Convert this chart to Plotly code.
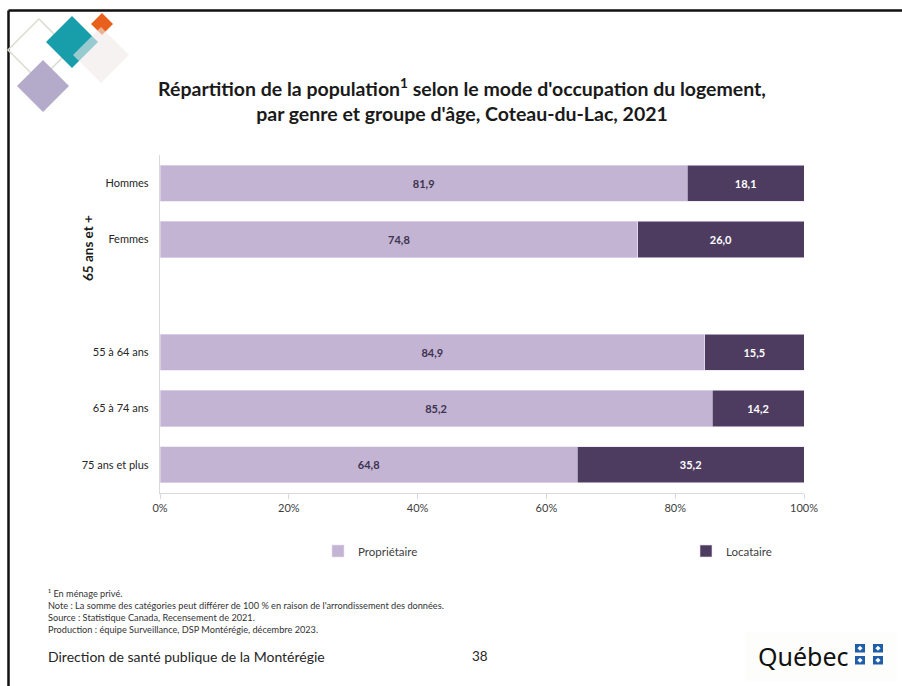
import plotly.graph_objects as go

# Data: share of the population by housing tenure (Coteau-du-Lac, 2021)
categories = ["Hommes", "Femmes", " ", "55 à 64 ans", "65 à 74 ans", "75 ans et plus"]
proprietaire = [81.9, 74.8, None, 84.9, 85.2, 64.8]
locataire = [18.1, 26.0, None, 15.5, 14.2, 35.2]
x_ticks = [0, 20, 40, 60, 80, 100]
x_tick_labels = [f"{v}%" for v in x_ticks]

COL_PROP = "#c3b4d3"
COL_LOC = "#4d3c60"
FONT = "Lato"

W, H = 902, 686
L, R, T, B = 160, 804, 155, 493  # plot area in pixels


def fmt(v):
    return None if v is None else f"{v:.1f}".replace(".", ",")


def px(x):
    return (x - L) / (R - L)


def py(y):
    return (B - y) / (B - T)


def diamond(cx, cy, r):
    pts = [(cx, cy - r), (cx + r, cy), (cx, cy + r), (cx - r, cy)]
    return "M" + " L".join(f"{px(a):.5f},{py(b):.5f}" for a, b in pts) + " Z"


def rect(x0, y0, x1, y1, color, layer="above"):
    return dict(type="rect", xref="paper", yref="paper",
                x0=px(x0), x1=px(x1), y0=py(y0), y1=py(y1),
                fillcolor=color, line=dict(width=0), layer=layer)


fig = go.Figure()
fig.add_trace(go.Bar(
    name="Propriétaire", y=categories, x=proprietaire, orientation="h",
    marker=dict(color=COL_PROP, line=dict(color="#e6dfee", width=0.6)),
    text=[fmt(v) for v in proprietaire], textposition="inside",
    insidetextanchor="middle",
    textfont=dict(family=FONT, size=11, color="#3d3350", weight="bold"),
    hoverinfo="skip", legend="legend", showlegend=True,
))
fig.add_trace(go.Bar(
    name="Locataire", y=categories, x=locataire, orientation="h",
    marker=dict(color=COL_LOC, line=dict(color="#e6dfee", width=0.6)),
    text=[fmt(v) for v in locataire], textposition="inside",
    insidetextanchor="middle",
    textfont=dict(family=FONT, size=11, color="white", weight="bold"),
    hoverinfo="skip", legend="legend2", showlegend=True,
))

shapes = []
# slide frame
shapes.append(dict(type="line", xref="paper", yref="paper",
                   x0=px(8.5), x1=px(W + 5), y0=py(10.5), y1=py(10.5),
                   line=dict(color="#111111", width=2.5)))
shapes.append(dict(type="line", xref="paper", yref="paper",
                   x0=px(8.5), x1=px(8.5), y0=py(10.5), y1=py(H + 5),
                   line=dict(color="#111111", width=2.5)))

# decorative corner motif
shapes.append(dict(type="path", xref="paper", yref="paper", path=diamond(39, 50, 31),
                   line=dict(color="#d9ddd0", width=1.5), fillcolor="rgba(0,0,0,0)"))
shapes.append(dict(type="path", xref="paper", yref="paper", path=diamond(43, 86, 26),
                   line=dict(width=0), fillcolor="#b4aac9"))
shapes.append(dict(type="path", xref="paper", yref="paper", path=diamond(72, 42, 26),
                   line=dict(width=0), fillcolor="#189dab"))
shapes.append(dict(type="path", xref="paper", yref="paper", path=diamond(102, 24, 11),
                   line=dict(width=0), fillcolor="#e8601c"))
shapes.append(dict(type="path", xref="paper", yref="paper", path=diamond(101, 55, 28),
                   line=dict(width=0), fillcolor="rgba(238,234,231,0.6)"))

# Québec signature block
shapes.append(rect(745, 632, 897, 681, "#fdfdfc", layer="below"))
for x0 in (855, 873):
    for y0 in (644, 656):
        shapes.append(rect(x0, y0, x0 + 10, y0 + 8.5, "#1f5da8"))
        cx, cy = x0 + 5, y0 + 4.25
        shapes.append(dict(type="path", xref="paper", yref="paper",
                           path=diamond(cx, cy, 2.6), line=dict(width=0),
                           fillcolor="white"))

annotations = [
    dict(text="<b>65 ans et +</b>", textangle=-90, xref="paper", yref="paper",
         x=px(78), y=py(213), showarrow=False,
         font=dict(family=FONT, size=13.5, color="#1a1a1a")),
    dict(text=("¹ En ménage privé.<br>"
               "Note : La somme des catégories peut différer de 100 % en raison de l'arrondissement des données.<br>"
               "Source : Statistique Canada, Recensement de 2021.<br>"
               "Production : équipe Surveillance, DSP Montérégie, décembre 2023."),
         xref="paper", yref="paper", x=px(46), y=py(586), xanchor="left", yanchor="top",
         align="left", showarrow=False,
         font=dict(family=FONT, size=9.2, color="#333333")),
    dict(text="Direction de santé publique de la Montérégie", xref="paper", yref="paper",
         x=px(46), y=py(656), xanchor="left", yanchor="middle", showarrow=False,
         font=dict(family=FONT, size=14, color="#262626")),
    dict(text="38", xref="paper", yref="paper", x=px(480), y=py(656),
         xanchor="center", yanchor="middle", showarrow=False,
         font=dict(family=FONT, size=13.5, color="#262626")),
    dict(text="Québec", xref="paper", yref="paper", x=px(851), y=py(656),
         xanchor="right", yanchor="middle", showarrow=False,
         font=dict(family="Noto Sans", size=25, color="#111111")),
]

legend_font = dict(family=FONT, size=11.5, color="#404040")

fig.update_layout(
    width=W, height=H,
    margin=dict(l=L, r=W - R, t=T, b=H - B, pad=0),
    paper_bgcolor="white", plot_bgcolor="white",
    barmode="stack", barnorm="percent", bargap=0.36,
    separators=", ",
    showlegend=True,
    font=dict(family=FONT, size=11, color="#404040"),
    title=dict(
        text="Répartition de la population<sup>1</sup> selon le mode d'occupation du logement,<br>"
             "par genre et groupe d'âge, Coteau-du-Lac, 2021",
        x=462 / W, xref="container", xanchor="center",
        y=1 - 96 / H, yref="container", yanchor="middle",
        font=dict(family=FONT, size=19.5, color="#1a1a1a", weight="bold"),
    ),
    xaxis=dict(range=[0, 100], tickmode="array", tickvals=x_ticks, ticktext=x_tick_labels,
               showgrid=False, zeroline=False,
               showline=True, linecolor="#d9d9d9", linewidth=1.2,
               ticks="outside", ticklen=5, tickcolor="#d9d9d9",
               tickfont=dict(family=FONT, size=11, color="#404040"),
               fixedrange=True),
    yaxis=dict(type="category", categoryorder="array", categoryarray=categories,
               autorange="reversed", showgrid=False, zeroline=False,
               showline=True, linecolor="#d9d9d9", linewidth=1.2,
               ticks="", ticklabelstandoff=8,
               tickfont=dict(family=FONT, size=11, color="#262626"),
               fixedrange=True),
    legend=dict(orientation="h", x=px(318), y=py(551), xanchor="left", yanchor="middle",
                font=legend_font, bgcolor="rgba(0,0,0,0)", visible=True),
    legend2=dict(orientation="h", x=px(686), y=py(551), xanchor="left", yanchor="middle",
                 font=legend_font, bgcolor="rgba(0,0,0,0)", visible=True),
    shapes=shapes,
    annotations=annotations,
    uniformtext=dict(mode="show", minsize=8),
)

fig.write_html("out.html", config={"displayModeBar": False, "staticPlot": True})
